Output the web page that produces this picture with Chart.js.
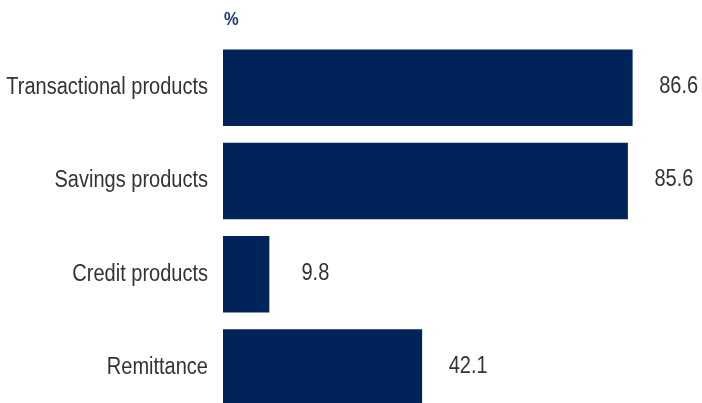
<!DOCTYPE html>
<html>
<head>
<meta charset="utf-8">
<script src="https://cdn.jsdelivr.net/npm/chart.js@4/dist/chart.umd.min.js"></script>
<style>
  html, body { margin: 0; padding: 0; background: #fff; overflow: hidden; }
  canvas { display: block; }
</style>
</head>
<body>
<canvas id="productsChart" width="702" height="431"></canvas>
<script>
const categories = ["Transactional products", "Savings products", "Credit products", "Remittance"];
const shares = [86.6, 85.6, 9.8, 42.1];
const unitLabel = "%";

const NAVY = "#00245a";
const FONT = "'Liberation Sans', Arial, sans-serif";
const SQUEEZE = 0.87; // narrow the text, condensed-face look

function narrowText(ctx, text, x, y, align) {
    ctx.save();
    ctx.translate(x, y);
    ctx.scale(SQUEEZE, 1);
    ctx.textAlign = align;
    ctx.fillText(text, 0, 0);
    ctx.restore();
}

// category names, value labels and the unit, drawn in the narrowed face
const annotate = {
    id: "annotate",
    afterDatasetsDraw(chart) {
        const ctx = chart.ctx;
        const yScale = chart.scales.y;
        const meta = chart.getDatasetMeta(0);
        const left = chart.chartArea.left;
        ctx.save();
        ctx.font = "23px " + FONT;
        ctx.fillStyle = "#333333";
        ctx.textBaseline = "middle";
        categories.forEach((name, i) => {
            narrowText(ctx, name, left - 15, yScale.getPixelForTick(i), "right");
        });
        meta.data.forEach((bar, i) => {
            narrowText(ctx, shares[i].toFixed(1), bar.x + 46, bar.y - 1, "center");
        });
        ctx.font = "bold 19px " + FONT;
        ctx.fillStyle = "#1f3a6e";
        narrowText(ctx, unitLabel, left + 1, 20, "left");
        ctx.restore();
    },
};

const ctx = document.getElementById("productsChart").getContext("2d");
new Chart(ctx, {
    type: "bar",
    data: {
        labels: categories,
        datasets: [
            {
                data: shares,
                backgroundColor: NAVY,
                barPercentage: 0.82,
                categoryPercentage: 1,
            },
        ],
    },
    options: {
        indexAxis: "y",
        responsive: false,
        animation: false,
        layout: { padding: { left: 0, right: 6, top: 41, bottom: 6 } },
        plugins: {
            legend: { display: false },
            tooltip: { enabled: false },
        },
        scales: {
            x: { display: false, min: 0, max: 100 },
            y: {
                grid: { display: false },
                border: { display: false },
                ticks: { color: "rgba(0,0,0,0)", font: { family: FONT, size: 23 } },
                afterFit(scale) {
                    scale.width = 223;
                },
            },
        },
    },
    plugins: [annotate],
});
</script>
</body>
</html>
